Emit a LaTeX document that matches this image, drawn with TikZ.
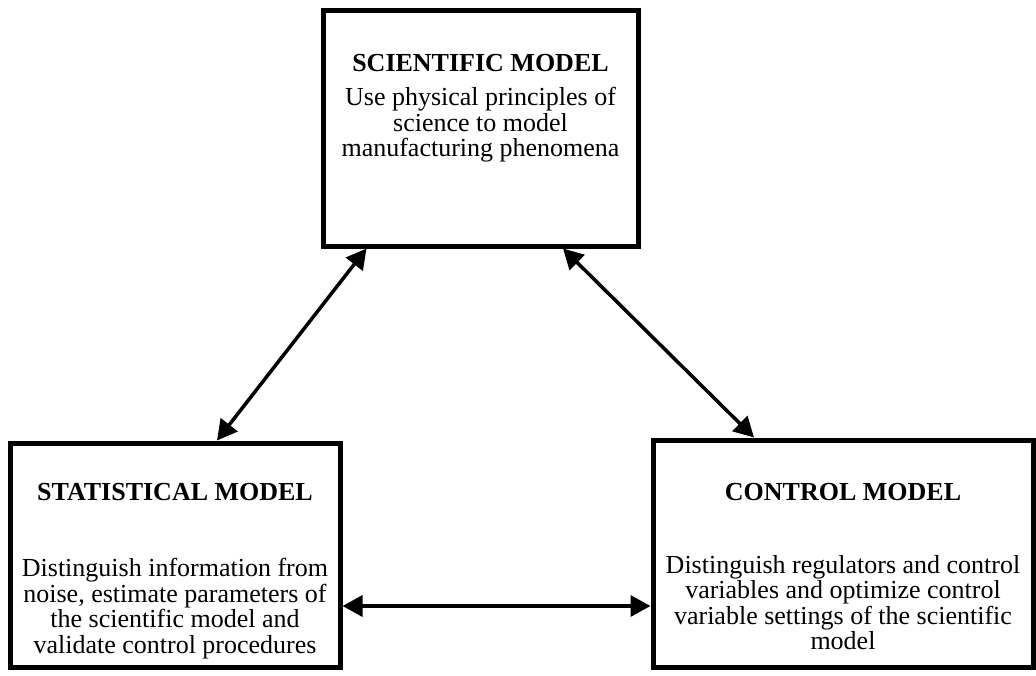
\documentclass[tikz,border=0pt]{standalone}
\usepackage{fontspec}
\setmainfont{Liberation Serif}
\usetikzlibrary{arrows.meta,positioning}

\begin{document}
\begin{tikzpicture}[x=1pt,y=-1pt,
  modelbox/.style={draw,line width=5pt,inner sep=0pt},
  titletext/.style={font=\fontsize{26}{26}\selectfont\bfseries,anchor=base,inner sep=0pt},
  bodytext/.style={font=\fontsize{26}{25.5}\selectfont,align=center,anchor=north,inner sep=0pt},
  link/.style={line width=3.5pt,>={Triangle[length=20pt,width=21pt]},<->}]
          \useasboundingbox (0,0) rectangle (1036,675);

          % the three boxes
          \node[modelbox,minimum width=315pt,minimum height=236pt] (sci) at (480.5,128) {};
          \node[modelbox,minimum width=330pt,minimum height=224pt] (stat) at (175,555) {};
          \node[modelbox,minimum width=380pt,minimum height=227pt] (ctrl) at (843,553.5) {};

          % texts
          \node[titletext] (scititle) at (480.5,71) {SCIENTIFIC MODEL};
          \node[bodytext] (scibody) at (480.5,87) {Use physical principles of\\science to model\\manufacturing phenomena};
          \node[titletext] (stattitle) at (175,500) {STATISTICAL MODEL};
          \node[bodytext] (statbody) at (175,558) {Distinguish information from\\noise, estimate parameters of\\the scientific model and\\validate control procedures};
          \node[titletext] (ctrltitle) at (843,500) {CONTROL MODEL};
          \node[bodytext] (ctrlbody) at (843,555) {Distinguish regulators and control\\variables and optimize control\\variable settings of the scientific\\model};

          % links
          \draw[link] ([xshift=42pt]stat.north)--([xshift=-114pt]sci.south);
          \draw[link] ([xshift=82.5pt]sci.south)--([xshift=-89pt]ctrl.north);
          \draw[link] ([yshift=-51pt]stat.east)--([yshift=-51pt]stat.east -| ctrl.west);
          \end{tikzpicture}
\end{document}
